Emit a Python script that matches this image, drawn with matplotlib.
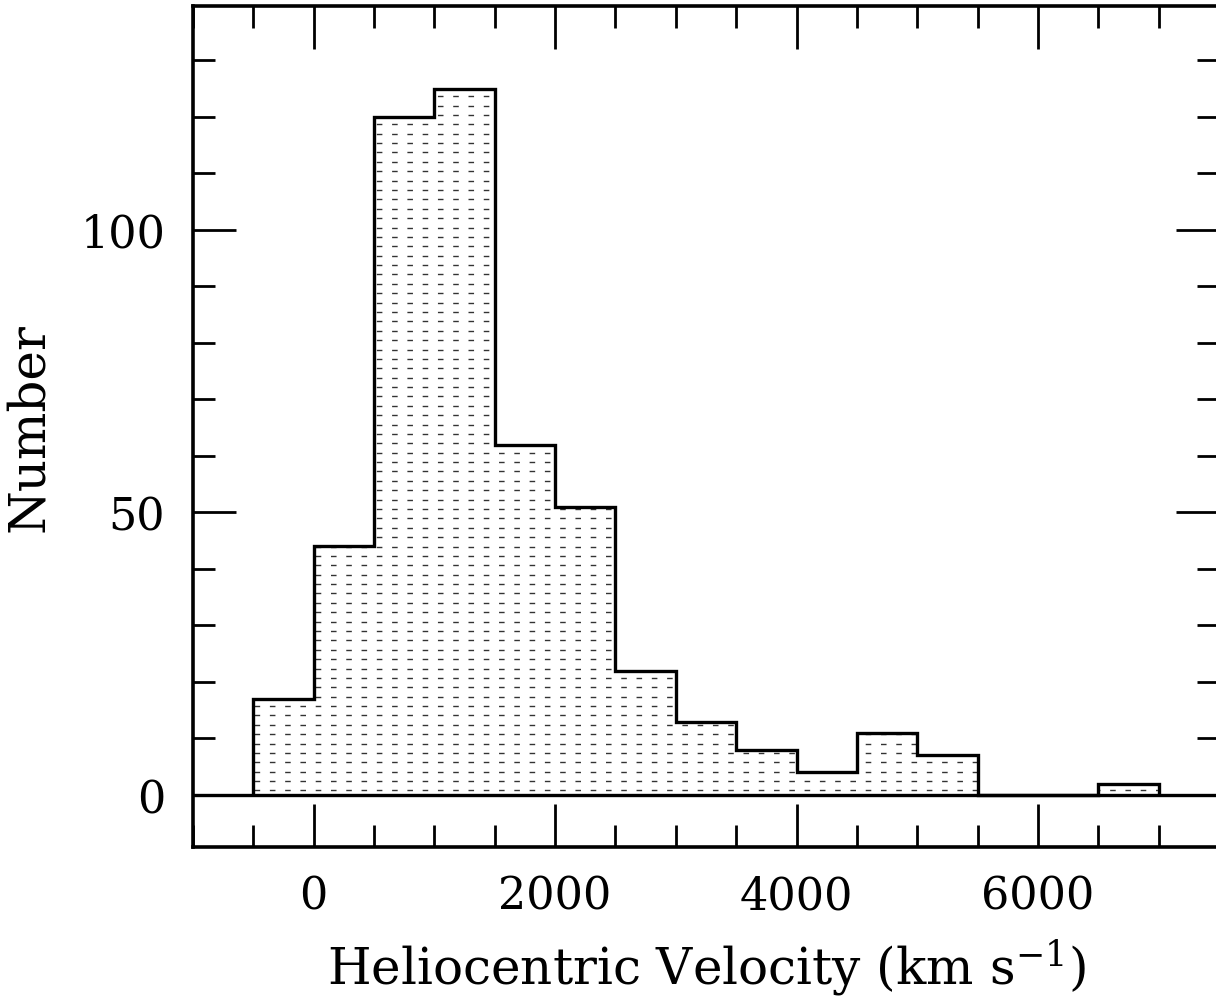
import numpy as np
import matplotlib
matplotlib.use("Agg")
import matplotlib.pyplot as plt
from matplotlib.ticker import MultipleLocator

bin_edges = [-500, 0, 500, 1000, 1500, 2000, 2500, 3000, 3500, 4000, 4500,
             5000, 5500, 6000, 6500, 7000]
counts = [17, 44, 120, 125, 62, 51, 22, 13, 8, 4, 11, 7, 0, 0, 2]
xlabel = "Heliocentric Velocity (km s$^{-1}$)"
ylabel = "Number"

plt.rcParams['font.family'] = ['DejaVu Serif']
plt.rcParams['mathtext.fontset'] = 'dejavuserif'

fig = plt.figure(figsize=(12.16, 10.03), dpi=100)
ax = fig.add_axes([193/1216, 1 - 848/1003, (1219 - 193)/1216, (848 - 7)/1003])

ax.set_xlim(-1000, 7500)
ax.set_ylim(-9.2, 139.6)

# filled region for clipping the dotted pattern
fill = ax.stairs(counts, bin_edges, baseline=0, fill=True, facecolor='none',
                 edgecolor='none', zorder=1)
ys = np.arange(0.8, 140, 1.66)
for yv in ys:
    ln, = ax.plot([-1000, 7500], [yv, yv], color='#333333', lw=1.0,
                  linestyle=(0, (4, 7)), zorder=1.5)
    ln.set_clip_path(fill)

ax.stairs(counts, bin_edges, baseline=0, fill=False, color='black', lw=2.4, zorder=3)
ax.axhline(0, color='black', lw=2.4, zorder=3)

ax.xaxis.set_major_locator(MultipleLocator(2000))
ax.xaxis.set_minor_locator(MultipleLocator(500))
ax.yaxis.set_major_locator(MultipleLocator(50))
ax.yaxis.set_minor_locator(MultipleLocator(10))
ax.tick_params(which='both', direction='in', top=True, right=True, width=2,
               labelsize=32, pad=20)
ax.tick_params(which='major', length=31)
ax.tick_params(which='minor', length=16)
for s in ax.spines.values():
    s.set_linewidth(2.6)

ax.set_xlabel(xlabel, fontsize=36, labelpad=13)
ax.set_ylabel(ylabel, fontsize=36, labelpad=19)

fig.savefig("out.png", dpi=100)
